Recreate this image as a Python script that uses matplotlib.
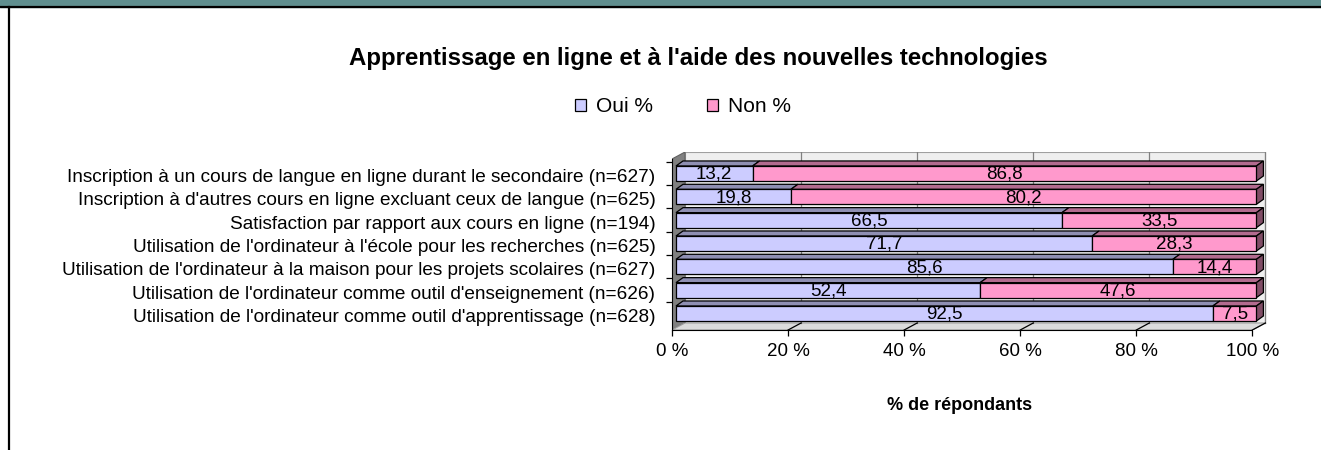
import numpy as np
import matplotlib
matplotlib.use("Agg")
import matplotlib.pyplot as plt
import matplotlib.transforms as mtransforms
from matplotlib.patches import Polygon, Rectangle

plt.rcParams['font.family'] = ['Liberation Sans', 'DejaVu Sans']

categories = [
    "Inscription à un cours de langue en ligne durant le secondaire (n=627)",
    "Inscription à d'autres cours en ligne excluant ceux de langue (n=625)",
    "Satisfaction par rapport aux cours en ligne (n=194)",
    "Utilisation de l'ordinateur à l'école pour les recherches (n=625)",
    "Utilisation de l'ordinateur à la maison pour les projets scolaires (n=627)",
    "Utilisation de l'ordinateur comme outil d'enseignement (n=626)",
    "Utilisation de l'ordinateur comme outil d'apprentissage (n=628)",
]
oui = [13.2, 19.8, 66.5, 71.7, 85.6, 52.4, 92.5]
non = [86.8, 80.2, 33.5, 28.3, 14.4, 47.6, 7.5]
series = ["Oui %", "Non %"]
xticks = [0, 20, 40, 60, 80, 100]

title = "Apprentissage en ligne et à l'aide des nouvelles technologies"
xlabel = "% de répondants"

# colours (front, top, side)
c_oui = ("#ccccff", "#8f8fb3", "#6b6b8f")
c_non = ("#ff99cc", "#b36b8f", "#804d66")

W, H = 1321, 450
fig = plt.figure(figsize=(W / 100, H / 100), dpi=100)

# frame decorations: teal band at top and black border
fig.patches.append(Rectangle((0, 1 - 6.5 / H), 1, 6.5 / H, transform=fig.transFigure,
                             color="#5f8f8f", zorder=0))
fig.add_artist(plt.Line2D([0, 1], [1 - 7.3 / H, 1 - 7.3 / H], color="black", lw=1.6))
fig.add_artist(plt.Line2D([9.2 / W, 9.2 / W], [0, 1 - 7 / H], color="black", lw=1.6))

# pixel scales used for the pseudo 3D depth
xpx, ypx = 5.8, 23.33
s = 4 / xpx                      # axis front is slightly left of bar front
dxw, dyw = 13 / xpx, 7 / ypx     # wall depth
dxb, dyb = 7 / xpx, 5 / ypx      # bar depth
bh = 15 / ypx

n = len(categories)
ypos = np.arange(n)[::-1].astype(float)
yf = -0.708
ytop = 6.92
x0 = -s
xr = 100 - s

ax = fig.add_axes([672 / W, (H - 330) / H, 596 / W, 178 / H])
ax.set_xlim(x0, 102.0)
ax.set_ylim(yf, ytop)
ax.patch.set_visible(False)

# walls and floor
ax.add_patch(Polygon([(x0 + dxw, yf + dyw), (xr + dxw, yf + dyw), (xr + dxw, ytop), (x0 + dxw, ytop)],
                     closed=True, fc="#efefef", ec="#a0a0a0", lw=0.8, zorder=0))
ax.add_patch(Polygon([(x0, yf), (x0 + dxw, yf + dyw), (x0 + dxw, ytop), (x0, ytop - dyw)],
                     closed=True, fc="#808080", ec="#606060", lw=0.8, zorder=0))
ax.add_patch(Polygon([(x0, yf), (xr, yf), (xr + dxw, yf + dyw), (x0 + dxw, yf + dyw)],
                     closed=True, fc="#dcdcdc", ec="#a0a0a0", lw=0.8, zorder=0))
for t in xticks[1:]:
    ax.plot([t - s + dxw, t - s + dxw], [yf + dyw, ytop], color="#808080", lw=0.9, zorder=0.5)
    ax.plot([t - s, t - s + dxw], [yf, yf + dyw], color="black", lw=0.9, zorder=0.5)

# bars: front faces
left_non = np.array(oui)
ax.barh(ypos, oui, height=bh, color=c_oui[0], edgecolor="black", lw=0.9, zorder=2)
ax.barh(ypos, non, left=left_non, height=bh, color=c_non[0], edgecolor="black", lw=0.9, zorder=2)

# bars: top and side faces
for y, o, nn in zip(ypos, oui, non):
    yt = y + bh / 2
    yb = y - bh / 2
    for l, r, cols in [(0, o, c_oui), (o, o + nn, c_non)]:
        ax.add_patch(Polygon([(l, yt), (l + dxb, yt + dyb), (r + dxb, yt + dyb), (r, yt)],
                             closed=True, fc=cols[1], ec="black", lw=0.9, zorder=1.5))
    r = o + nn
    ax.add_patch(Polygon([(r, yb), (r, yt), (r + dxb, yt + dyb), (r + dxb, yb + dyb)],
                         closed=True, fc=c_non[2], ec="black", lw=0.9, zorder=1.5))
    ax.text(o / 2, y - 0.03, f"{o:.1f}".replace(".", ","), ha="center", va="center",
            fontsize=13.5, zorder=3)
    ax.text(o + nn / 2, y - 0.03, f"{nn:.1f}".replace(".", ","), ha="center", va="center",
            fontsize=13.5, zorder=3)

# axes
for side in ["top", "right"]:
    ax.spines[side].set_visible(False)
ax.spines["left"].set_bounds(yf, ytop - dyw)
ax.spines["bottom"].set_bounds(x0, xr)
ax.spines["left"].set_zorder(4)
ax.set_xticks([t - s for t in xticks])
ax.set_xticklabels([f"{t} %" for t in xticks], fontsize=13.5)
ax.tick_params(axis="x", length=4, width=0.9, pad=5)
ax.set_yticks(ypos)
ax.set_yticklabels(categories, fontsize=13.7)
ax.tick_params(axis="y", which="major", length=0, pad=12)
ax.set_yticks(np.arange(n) + 0.5, minor=True)
ax.tick_params(axis="y", which="minor", length=4, width=0.9)
shift = mtransforms.ScaledTranslation(0, -2 / 100, fig.dpi_scale_trans)
for lbl in ax.get_yticklabels():
    lbl.set_transform(lbl.get_transform() + shift)

fig.text(960 / W, 1 - 406 / H, xlabel, ha="center", va="center", fontsize=13, fontweight="bold")
fig.text(698 / W, 1 - 58 / H, title, ha="center", va="center", fontsize=17.3, fontweight="bold")

# legend
handles = [Rectangle((0, 0), 1, 1, fc=c, ec="black", lw=0.9) for c in (c_oui[0], c_non[0])]
fig.legend(handles, series, loc="center", bbox_to_anchor=(683 / W, 1 - 107 / H), ncol=2,
           frameon=False, fontsize=15, handlelength=0.5, handleheight=0.5,
           columnspacing=2.6, handletextpad=0.5)

fig.savefig("out.png", dpi=100)
